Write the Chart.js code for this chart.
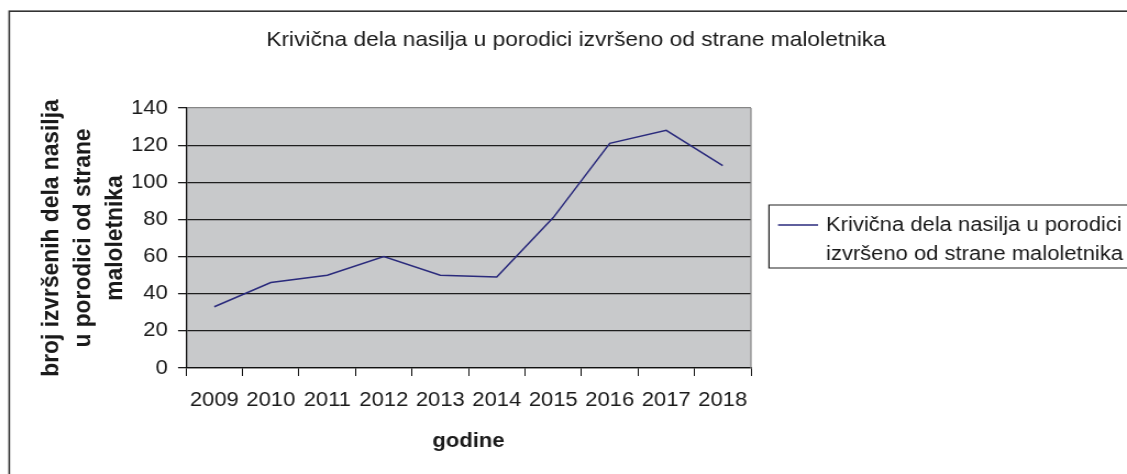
<!DOCTYPE html>
<html>
<head>
<meta charset="utf-8">
<script src="https://cdn.jsdelivr.net/npm/chart.js@4.4.0/dist/chart.umd.min.js"></script>
<style>
    body { margin: 0; background: #fff; overflow: hidden; }
</style>
</head>
<body>
<canvas id="grafico" width="1025" height="474" style="width:1127px;height:474px;"></canvas>
<script>
var anios = ['2009', '2010', '2011', '2012', '2013', '2014', '2015', '2016', '2017', '2018'];
var casos = [33, 46, 50, 60, 50, 49, 81, 121, 128, 109];
var ejeYmin = 0;
var ejeYmax = 140;
var ejeYpaso = 20;
var tituloGrafico = 'Krivična dela nasilja u porodici izvršeno od strane maloletnika';
var tituloEjeY = ['broj izvršenih dela nasilja', 'u porodici od strane', 'maloletnika'];
var tituloEjeX = 'godine';
var nombreSerie = 'Krivična dela nasilja u porodici izvršeno od strane maloletnika';

var fuente = "'Liberation Sans', Arial, sans-serif";

// parte el texto en lineas segun el ancho maximo
function partirTexto(ctx, texto, ancho) {
    var palabras = texto.split(' ');
    var lineas = [];
    var actual = '';
    for (var i = 0; i < palabras.length; i++) {
        var prueba = actual ? actual + ' ' + palabras[i] : palabras[i];
        if (ctx.measureText(prueba).width > ancho && actual) {
            lineas.push(actual);
            actual = palabras[i];
        } else {
            actual = prueba;
        }
    }
    lineas.push(actual);
    return lineas;
}

var fondoExcel = {
    id: 'fondoExcel',
    beforeDraw: function (chart) {
        var ctx = chart.ctx;
        var a = chart.chartArea;
        ctx.save();
        ctx.fillStyle = '#fff';
        ctx.fillRect(0, 0, chart.width, chart.height);
        // marco del grafico (se corta a la derecha y abajo)
        ctx.strokeStyle = '#333';
        ctx.lineWidth = 1.6;
        ctx.strokeRect(8.4, 11.2, chart.width + 60, chart.height + 60);
        // area del grafico en gris
        ctx.fillStyle = '#c8c9cb';
        ctx.fillRect(a.left, a.top, a.right - a.left, a.bottom - a.top);
        ctx.restore();
    },
    afterDraw: function (chart) {
        var ctx = chart.ctx;
        var a = chart.chartArea;
        var ds = chart.data.datasets[0];
        ctx.save();
        // borde derecho del area
        ctx.strokeStyle = '#868686';
        ctx.lineWidth = 1.2;
        ctx.beginPath();
        ctx.moveTo(a.right, a.top);
        ctx.lineTo(a.right, a.bottom);
        ctx.stroke();
        // leyenda (cortada por la derecha como en el original)
        ctx.strokeStyle = '#222';
        ctx.lineWidth = 1.2;
        ctx.beginPath();
        ctx.moveTo(chart.width + 5, 205);
        ctx.lineTo(699.4, 205);
        ctx.lineTo(699.4, 268);
        ctx.lineTo(chart.width + 5, 268);
        ctx.stroke();
        ctx.strokeStyle = ds.borderColor;
        ctx.lineWidth = 1.4;
        ctx.beginPath();
        ctx.moveTo(707.6, 225);
        ctx.lineTo(744, 225);
        ctx.stroke();
        ctx.font = '20px ' + fuente;
        ctx.fillStyle = '#1a1a1a';
        ctx.textBaseline = 'middle';
        ctx.textAlign = 'left';
        var lineas = partirTexto(ctx, ds.label, 300);
        for (var i = 0; i < lineas.length; i++) {
            ctx.fillText(lineas[i], 751.2, 225 + i * 29);
        }
        ctx.restore();
    }
};

const myChart = new Chart('grafico', {
    type: 'line',
    data: {
        labels: anios,
        datasets: [{
            label: nombreSerie,
            data: casos,
            borderColor: '#2a2a7c',
            borderWidth: 1.5,
            pointRadius: 0,
            pointHoverRadius: 0,
            tension: 0,
            fill: false
        }]
    },
    options: {
        responsive: false,
        animation: false,
        devicePixelRatio: 1,
        layout: {
            padding: { left: 22.8, right: 0, top: 0, bottom: 0 }
        },
        plugins: {
            legend: { display: false },
            tooltip: { enabled: false },
            title: {
                display: true,
                text: tituloGrafico,
                color: '#1a1a1a',
                font: { family: fuente, size: 20.7, weight: 'normal', lineHeight: 1.2 },
                padding: { top: 28, bottom: 55.2 }
            }
        },
        scales: {
            x: {
                type: 'category',
                offset: true,
                grid: {
                    offset: true,
                    drawOnChartArea: false,
                    color: '#111',
                    lineWidth: 1,
                    tickLength: 8
                },
                border: { display: true, color: '#111', width: 1.3 },
                ticks: {
                    color: '#1a1a1a',
                    font: { family: fuente, size: 20 },
                    padding: 12,
                    maxRotation: 0,
                    autoSkip: false
                },
                title: {
                    display: true,
                    text: tituloEjeX,
                    color: '#1a1a1a',
                    font: { family: fuente, size: 20, weight: 'bold', lineHeight: 1.2 },
                    padding: { top: 0, bottom: 20.3 }
                },
                afterFit: function (s) { s.height = 106; }
            },
            y: {
                min: ejeYmin,
                max: ejeYmax,
                grid: {
                    color: function (c) { return c.tick && c.tick.value === ejeYmax ? '#868686' : '#1e1e1e'; },
                    tickColor: '#1e1e1e',
                    lineWidth: 1.3,
                    tickLength: 7.3
                },
                border: { display: true, color: '#111', width: 1.3 },
                ticks: {
                    stepSize: ejeYpaso,
                    color: '#1a1a1a',
                    font: { family: fuente, size: 20 },
                    padding: 9.4
                },
                title: {
                    display: true,
                    text: tituloEjeY,
                    color: '#1a1a1a',
                    font: { family: fuente, size: 22.8, weight: 'bold', lineHeight: 1.27 },
                    padding: { top: 9.4, bottom: 0 }
                },
                afterFit: function (s) { s.width = 146.4; }
            },
            // eje vacio para dejar sitio a la leyenda
            espacio: {
                type: 'linear',
                position: 'right',
                display: true,
                grid: { display: false },
                border: { display: false },
                ticks: { display: false },
                afterFit: function (s) { s.width = 342; }
            }
        }
    },
    plugins: [fondoExcel]
});
</script>
</body>
</html>
